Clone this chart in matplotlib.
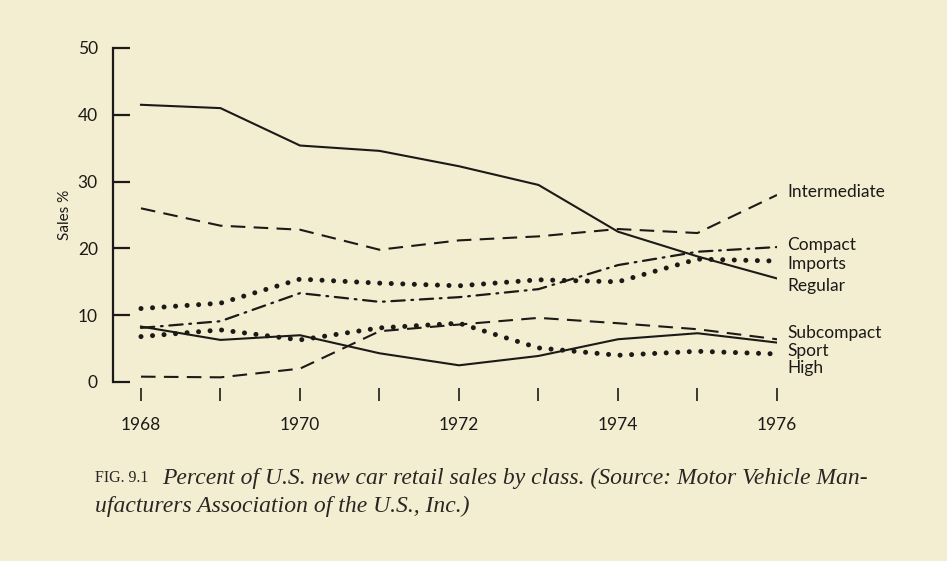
import matplotlib
matplotlib.use('Agg')
import matplotlib.pyplot as plt

# data (percent of new car retail sales)
years = [1968, 1969, 1970, 1971, 1972, 1973, 1974, 1975, 1976]
regular = [41.5, 41.0, 35.4, 34.6, 32.3, 29.5, 22.5, 18.8, 15.5]
intermediate = [26.0, 23.4, 22.8, 19.8, 21.2, 21.8, 22.9, 22.3, 28.0]
compact = [8.1, 9.1, 13.3, 12.0, 12.7, 13.9, 17.5, 19.5, 20.2]
imports = [11.0, 11.8, 15.4, 14.8, 14.4, 15.3, 15.0, 18.4, 18.1]
subcompact = [0.8, 0.7, 2.0, 7.6, 8.6, 9.6, 8.8, 7.9, 6.4]
sport = [8.3, 6.3, 7.0, 4.3, 2.5, 3.9, 6.4, 7.3, 5.9]
high = [6.8, 7.8, 6.3, 8.1, 8.8, 5.1, 4.0, 4.6, 4.2]

yticks = [0, 10, 20, 30, 40, 50]
xticks_major = [1968, 1970, 1972, 1974, 1976]

bg = '#f3edd2'
ink = '#1c1a17'
plt.rcParams['font.family'] = ['Lato', 'DejaVu Sans']

fig = plt.figure(figsize=(9.47, 5.61), dpi=100)
fig.patch.set_facecolor(bg)
ax = fig.add_axes([113 / 947, 1 - 382 / 561, 664 / 947, 334 / 561])
ax.set_facecolor(bg)

solid = dict(color=ink, lw=1.5, solid_joinstyle='miter')
ax.plot(years, regular, **solid)
ax.plot(years, sport, **solid)
ax.plot(years, intermediate, color=ink, lw=1.5, dashes=(7, 4))
ax.plot(years, subcompact, color=ink, lw=1.5, dashes=(7, 4))
ax.plot(years, compact, color=ink, lw=1.6, dashes=(6, 3, 0.8, 3), dash_capstyle='round')
ax.plot(years, imports, color=ink, lw=3.6, dashes=(0.01, 2.3), dash_capstyle='round')
ax.plot(years, high, color=ink, lw=3.6, dashes=(0.01, 2.3), dash_capstyle='round')

ends = [('Intermediate', intermediate[-1] + 0.4), ('Compact', compact[-1] + 0.3),
        ('Imports', 17.6), ('Regular', 14.4), ('Subcompact', 7.3),
        ('Sport', 4.7), ('High', 2.1)]
for name, yv in ends:
    ax.text(years[-1] + 0.13, yv, name, fontsize=12.5, color=ink, va='center',
            ha='left', clip_on=False)

ax.set_xlim(1967.648, 1976.0)
ax.set_ylim(0, 50)
ax.set_yticks(yticks)
ax.set_xticks(years, minor=True)
ax.set_xticks(xticks_major)
ax.set_xticklabels([str(y) for y in xticks_major])
ax.tick_params(axis='y', direction='in', length=12, width=1.6, pad=11,
               labelsize=12.5, colors=ink)
ax.tick_params(axis='x', which='both', direction='out', length=9, width=1.2,
               pad=12, labelsize=12.5, colors=ink)
for s in ['top', 'right']:
    ax.spines[s].set_visible(False)
ax.spines['bottom'].set_position(('outward', 4))
ax.spines['bottom'].set_visible(False)
ax.spines['left'].set_linewidth(1.6)
ax.spines['left'].set_color(ink)
ax.set_ylabel('Sales %', fontsize=11, color=ink, labelpad=4)

cap = '#2a2622'
fig.text(95 / 947, 1 - 478 / 561, 'FIG. 9.1', fontsize=11.5, color=cap,
         family='Liberation Serif', va='center')
fig.text(162 / 947, 1 - 478 / 561,
         'Percent of U.S. new car retail sales by class. (Source: Motor Vehicle Man-',
         fontsize=17, style='italic', color=cap, family='Liberation Serif',
         va='center')
fig.text(95 / 947, 1 - 506 / 561, 'ufacturers Association of the U.S., Inc.)',
         fontsize=17, style='italic', color=cap, family='Liberation Serif',
         va='center')

fig.savefig('out.png', dpi=100, facecolor=bg)
